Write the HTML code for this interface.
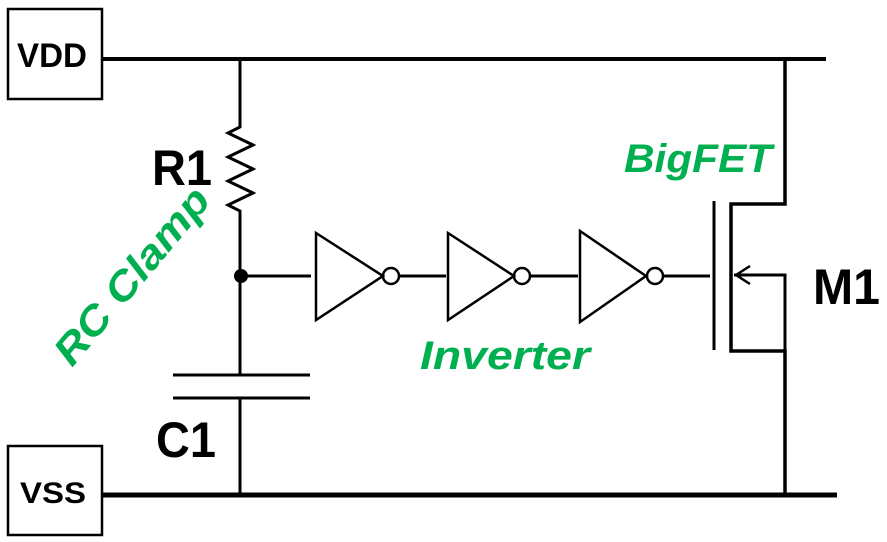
<!DOCTYPE html>
<html><head><style>body{margin:0;background:#fff}svg{display:block}</style></head><body>
<svg width="887" height="542" viewBox="0 0 887 542" xmlns="http://www.w3.org/2000/svg">
<g fill="none" stroke="#000" stroke-width="3">
<rect x="8" y="9" width="94" height="90" stroke-width="2.5"/>
<rect x="8" y="446" width="94" height="89" stroke-width="2.5"/>
<line x1="102" y1="59" x2="826" y2="59" stroke-width="4"/>
<line x1="102" y1="495" x2="837" y2="495" stroke-width="5"/>
<polyline points="240,59 240,127 228,133 253,145 228,157 253,169 228,181 253,193 228,205 240,211 240,375"/>
<line x1="240" y1="398" x2="240" y2="495"/>
<line x1="173" y1="375" x2="310" y2="375"/>
<line x1="173" y1="398" x2="310" y2="398"/>
<line x1="240" y1="276" x2="311" y2="276"/>
<polygon points="316,233 316,320 383,276" stroke-width="2.5"/>
<circle cx="391" cy="276" r="8" stroke-width="2.5"/>
<line x1="399" y1="276" x2="446" y2="276"/>
<polygon points="448,233 448,320 514,276" stroke-width="2.5"/>
<circle cx="522" cy="276" r="8" stroke-width="2.5"/>
<line x1="530" y1="276" x2="578" y2="276"/>
<polygon points="580,231 580,322 646,276" stroke-width="2.5"/>
<circle cx="655" cy="276" r="8" stroke-width="2.5"/>
<line x1="663" y1="276" x2="710" y2="276"/>
<line x1="714" y1="201" x2="714" y2="350"/>
<polyline points="785,59 785,204 731,204 731,351 785,351 785,495" stroke-width="3.5"/>
<polyline points="785,350 785,275 734,275"/>
<polyline points="750,266 736,275 750,284" stroke-width="2.5"/>
</g>
<circle cx="241" cy="276" r="7" fill="#000"/>
<g font-family="'Liberation Sans',sans-serif" font-weight="bold" fill="#000">
<text x="17" y="67" font-size="34" textLength="70" lengthAdjust="spacingAndGlyphs">VDD</text>
<text x="20" y="503" font-size="30" textLength="66" lengthAdjust="spacingAndGlyphs">VSS</text>
<text x="152" y="185" font-size="50" textLength="60" lengthAdjust="spacingAndGlyphs">R1</text>
<text x="156" y="457" font-size="50" textLength="60" lengthAdjust="spacingAndGlyphs">C1</text>
<text x="813" y="304" font-size="50" textLength="67" lengthAdjust="spacingAndGlyphs">M1</text>
</g>
<g font-family="'Liberation Sans',sans-serif" font-weight="bold" font-style="italic" fill="#00b050" font-size="40">
<text x="624" y="172" textLength="148" lengthAdjust="spacingAndGlyphs">BigFET</text>
<text x="420" y="369" textLength="170" lengthAdjust="spacingAndGlyphs">Inverter</text>
<text x="0" y="0" transform="translate(72,368) rotate(-50)" textLength="218" lengthAdjust="spacingAndGlyphs">RC Clamp</text>
</g>
</svg>
</body></html>
